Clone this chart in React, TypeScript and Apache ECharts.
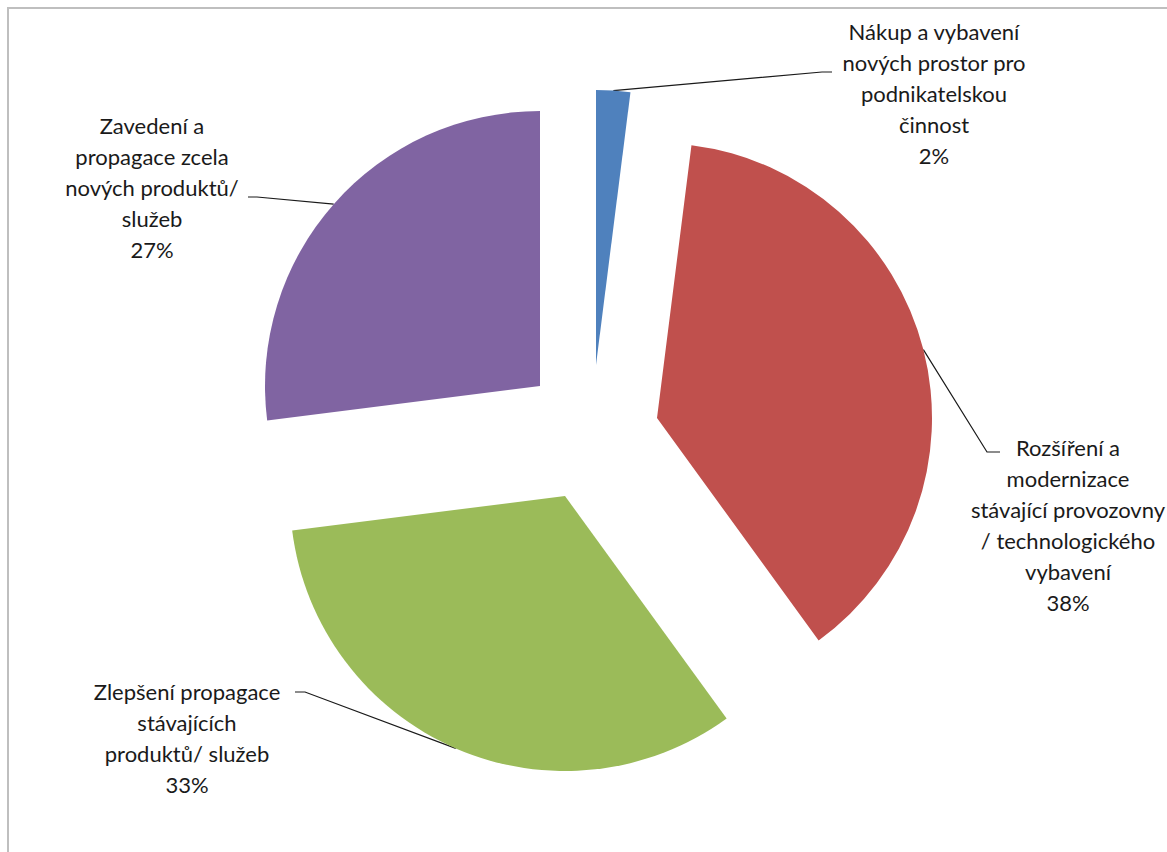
import React, { useEffect, useRef } from "react";
import * as echarts from "echarts";

// ---- data ----
const categories: string[] = [
  "Nákup a vybavení\nnových prostor pro\npodnikatelskou\nčinnost",
  "Rozšíření a\nmodernizace\nstávající provozovny\n/ technologického\nvybavení",
  "Zlepšení propagace\nstávajících\nproduktů/ služeb",
  "Zavedení a\npropagace zcela\nnových produktů/\nslužeb",
];
const values: number[] = [2, 38, 33, 27];

// ---- styling / layout ----
const colors = ["#4F81BD", "#C0504D", "#9BBB59", "#8064A2"];
const RADIUS = 275;
// exploded slice centres (pixels)
const sliceCenters: number[][] = [
  [596, 365],
  [657, 418],
  [565, 496],
  [540, 386],
];
// label block anchor: centre x, top y
const labelPos: number[][] = [
  [934, 16],
  [1068, 432],
  [187, 676],
  [152, 110],
];
// leader-line elbow points near labels
const labelElbows: number[][][] = [
  [[822, 72], [832, 72]],
  [[987, 452], [1000, 452]],
  [[305, 692], [295, 692]],
  [[257, 197], [248, 197]],
];

function arcMid(i: number): number[] {
  const total = values.reduce((a, b) => a + b, 0);
  let cum = 0;
  for (let k = 0; k < i; k++) cum += values[k];
  const theta = (2 * Math.PI * (cum + values[i] / 2)) / total;
  const [cx, cy] = sliceCenters[i];
  return [cx + RADIUS * Math.sin(theta), cy - RADIUS * Math.cos(theta)];
}

export default function App() {
  const ref = useRef<HTMLDivElement>(null);
  useEffect(() => {
    if (!ref.current) return;
    const chart = echarts.init(ref.current, null, { renderer: "svg" });
    const series = categories.map((_, i) => ({
      type: "pie",
      center: sliceCenters[i],
      radius: [0, RADIUS],
      startAngle: 90,
      clockwise: true,
      avoidLabelOverlap: false,
      emphasis: { disabled: true },
      label: {
        show: false,
        formatter: "{b}\n{d}%",
        fontFamily: "Lato",
        fontSize: 22,
        lineHeight: 31,
        color: "#1a1a1a",
        align: "center",
      },
      labelLine: { show: false, lineStyle: { color: "#1a1a1a", width: 1.2 } },
      labelLayout: (params: any) => {
        if (params.dataIndex !== i) return {};
        return {
          x: labelPos[i][0],
          y: labelPos[i][1],
          align: "center",
          verticalAlign: "top",
          labelLinePoints: [arcMid(i), ...labelElbows[i]],
        };
      },
      data: categories.map((name, j) => ({
        name,
        value: values[j],
        itemStyle: { color: j === i ? colors[i] : "rgba(0,0,0,0)" },
        label: { show: j === i },
        labelLine: { show: j === i },
      })),
    }));
    chart.setOption({
      animation: false,
      backgroundColor: "#ffffff",
      series,
    });
    return () => chart.dispose();
  }, []);
  return (
    <>
      <div
        ref={ref}
        style={{ position: "fixed", left: 0, top: 0, width: 1167, height: 852 }}
      />
      <div
        style={{
          position: "fixed",
          left: 7,
          top: 7,
          width: 1160,
          height: 845,
          boxSizing: "border-box",
          borderLeft: "2px solid #bfbfbf",
          borderTop: "2px solid #bfbfbf",
          pointerEvents: "none",
        }}
      />
    </>
  );
}
